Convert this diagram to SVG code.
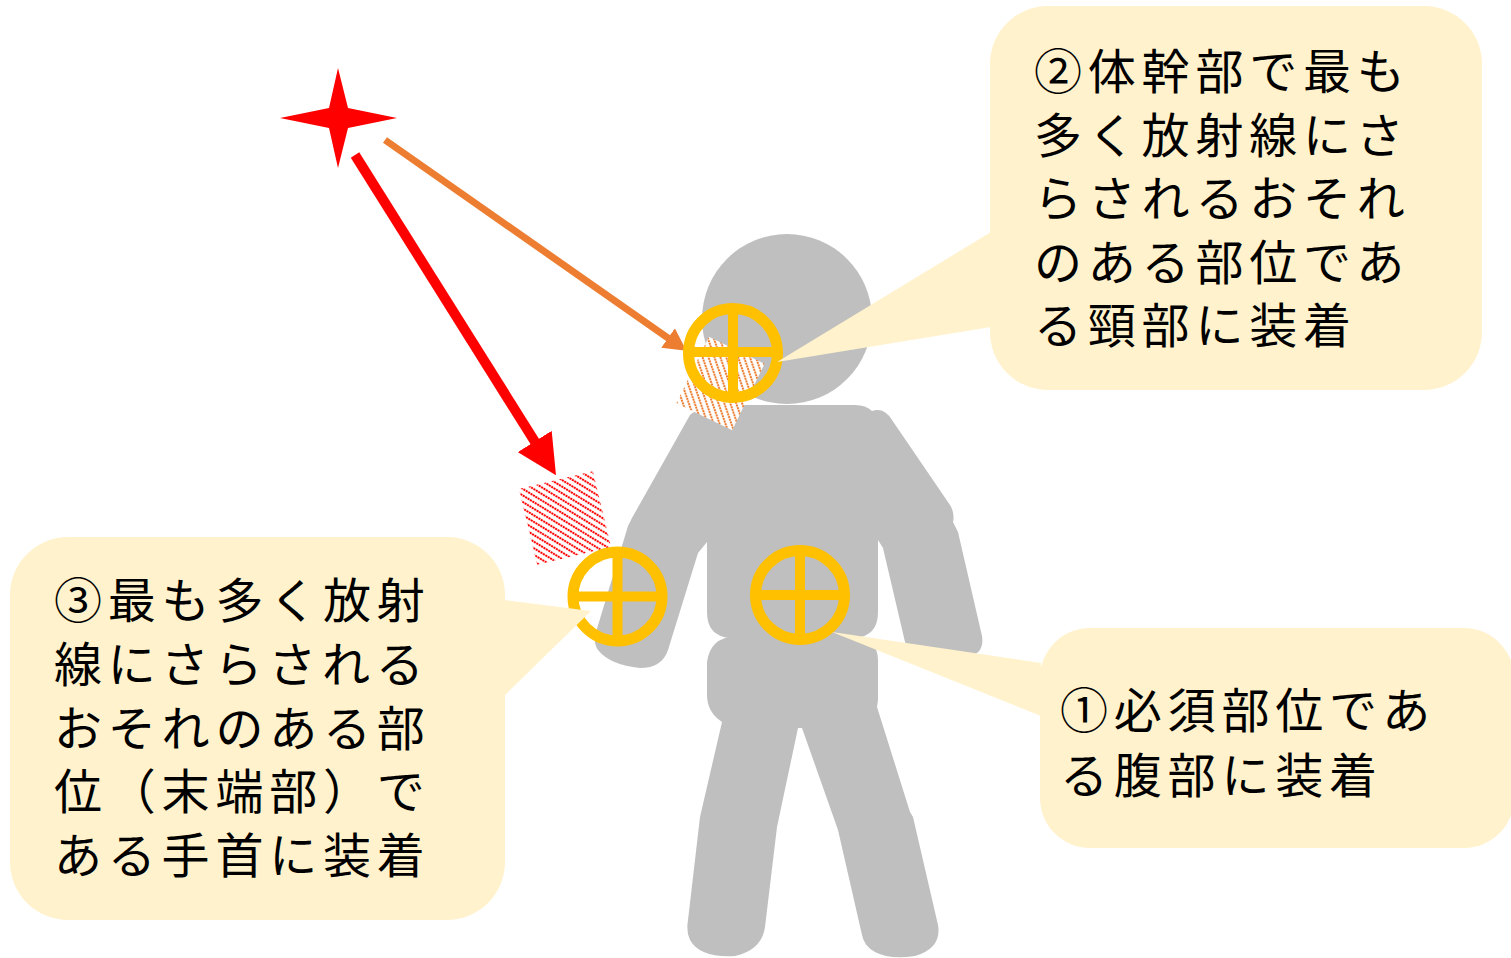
<svg xmlns="http://www.w3.org/2000/svg" width="1511" height="958" viewBox="0 0 1511 958">
  <style>
    .body { fill: #BFBFBF; }
    .ring { fill: none; stroke: #FFC000; stroke-width: 11; }
    .bar { stroke: #FFC000; stroke-width: 10; }
    .bubble { fill: #FFF2CC; }
    .label { font-family: "Noto Sans CJK JP", "Noto Sans CJK SC", sans-serif; font-size: 48px; letter-spacing: 5.8px; fill: #000; }
  </style>
  <defs>
    <pattern id="hatchRed" patternUnits="userSpaceOnUse" width="5.6" height="5.6" patternTransform="rotate(-45)">
      <rect width="5.6" height="5.6" fill="#FFFFFF"/>
      <line x1="2.8" y1="0" x2="2.8" y2="5.6" stroke="#FF0000" stroke-width="2" stroke-dasharray="2 0.8"/>
    </pattern>
    <pattern id="hatchOrange" patternUnits="userSpaceOnUse" width="5.6" height="5.6" patternTransform="rotate(-45)">
      <rect width="5.6" height="5.6" fill="#FFFFFF"/>
      <line x1="2.8" y1="0" x2="2.8" y2="5.6" stroke="#ED7D31" stroke-width="2" stroke-dasharray="2 0.8"/>
    </pattern>
    <marker id="headRed" viewBox="0 0 4 4" markerWidth="4" markerHeight="4" refX="0.2" refY="2" orient="auto" markerUnits="strokeWidth">
      <path d="M0,0 L4,2 L0,4 Z" fill="#FF0000"/>
    </marker>
    <marker id="headOrange" viewBox="0 0 3.2 3.4" markerWidth="3.2" markerHeight="3.4" refX="0.2" refY="1.7" orient="auto" markerUnits="strokeWidth">
      <path d="M0,0 L3.2,1.7 L0,3.4 Z" fill="#ED7D31"/>
    </marker>
  </defs>

  <!-- standing figure -->
  <g id="person">
    <circle class="body" cx="787" cy="319" r="85"/>
    <path class="body" d="M745,405 L855,405 Q866,405 872,411 Q884,407 892,420 L950,505 Q955,513 953,522 L958,532 L982,636 Q985,655 965,657 L935,658 Q910,657 905,642 L883,548 L878,540 L878,612 Q878,636 855,638 L730,638 Q707,636 707,612 L707,542 L698,553 L668,650 Q662,668 640,668 Q610,665 598,650 Q593,643 596,632 L628,526 L632,518 L690,415 Q700,405 745,405 Z"/>
    <path class="body" d="M735,636 L855,636 Q878,640 878,660 L878,700 L877,707 L910,812 L913,817 L938,925 Q942,948 915,956 Q890,960 875,952 Q864,946 862,935 L838,830 L802,728 L798,728 L777,827 L765,927 Q762,950 735,956 Q700,958 690,940 Q686,932 688,920 L700,817 L722,722 Q707,712 707,695 L707,662 Q710,638 735,636 Z"/>
  </g>

  <!-- exposed areas -->
  <g id="exposure-wrist">
    <rect x="-38" y="-39" width="76" height="78" fill="url(#hatchRed)" transform="translate(565 518) rotate(-13.5)"/>
  </g>
  <g id="exposure-neck">
    <rect x="-31" y="-37" width="62" height="74" fill="url(#hatchOrange)" transform="translate(720.5 383.5) rotate(26)"/>
  </g>

  <!-- radiation paths -->
  <g id="connectors">
    <line x1="355" y1="155" x2="535.8" y2="443.1" stroke="#FF0000" stroke-width="10" marker-end="url(#headRed)"/>
    <line x1="385" y1="140" x2="669.2" y2="338.8" stroke="#ED7D31" stroke-width="7" marker-end="url(#headOrange)"/>
  </g>

  <!-- radiation source -->
  <g id="source">
    <path d="M338,68 L348,108 L397,118 L348,128 L338,168 L329,128 L280,118 L329,108 Z" fill="#FF0000"/>
  </g>

  <!-- dosimeters -->
  <g id="dosimeter-neck">
    <circle class="ring" cx="733" cy="353" r="44.5"/>
    <line class="bar" x1="733" y1="308" x2="733" y2="398"/>
    <line class="bar" x1="688" y1="352" x2="778" y2="352"/>
  </g>
  <g id="dosimeter-abdomen">
    <circle class="ring" cx="800" cy="595" r="44.5"/>
    <line class="bar" x1="800" y1="550" x2="800" y2="640"/>
    <line class="bar" x1="755" y1="595" x2="845" y2="595"/>
  </g>
  <g id="dosimeter-wrist">
    <circle class="ring" cx="617.5" cy="596.5" r="44.5"/>
    <line class="bar" x1="617.5" y1="551" x2="617.5" y2="641"/>
    <line class="bar" x1="572" y1="596.5" x2="662" y2="596.5"/>
  </g>

  <!-- callouts -->
  <g id="callout-neck">
    <rect class="bubble" x="990" y="6" width="492" height="384" rx="58"/>
    <polygon class="bubble" points="991,232 777,362 991,327"/>
    <text class="label" x="1034" y="89">②体幹部で最も</text>
    <text class="label" x="1034" y="152.5">多く放射線にさ</text>
    <text class="label" x="1034" y="216">らされるおそれ</text>
    <text class="label" x="1034" y="279.5">のある部位であ</text>
    <text class="label" x="1034" y="343">る頸部に装着</text>
  </g>
  <g id="callout-wrist">
    <rect class="bubble" x="10" y="537" width="495" height="383" rx="58"/>
    <polygon class="bubble" points="504,600 591,611 504,696"/>
    <text class="label" x="54" y="618">③最も多く放射</text>
    <text class="label" x="54" y="682">線にさらされる</text>
    <text class="label" x="54" y="745.5">おそれのある部</text>
    <text class="label" x="54" y="809">位（末端部）で</text>
    <text class="label" x="54" y="873">ある手首に装着</text>
  </g>
  <g id="callout-abdomen">
    <rect class="bubble" x="1040" y="628" width="474" height="220" rx="50"/>
    <polygon class="bubble" points="1041,663 832,632 1041,716"/>
    <text class="label" x="1060" y="728">①必須部位であ</text>
    <text class="label" x="1060" y="793">る腹部に装着</text>
  </g>
</svg>
